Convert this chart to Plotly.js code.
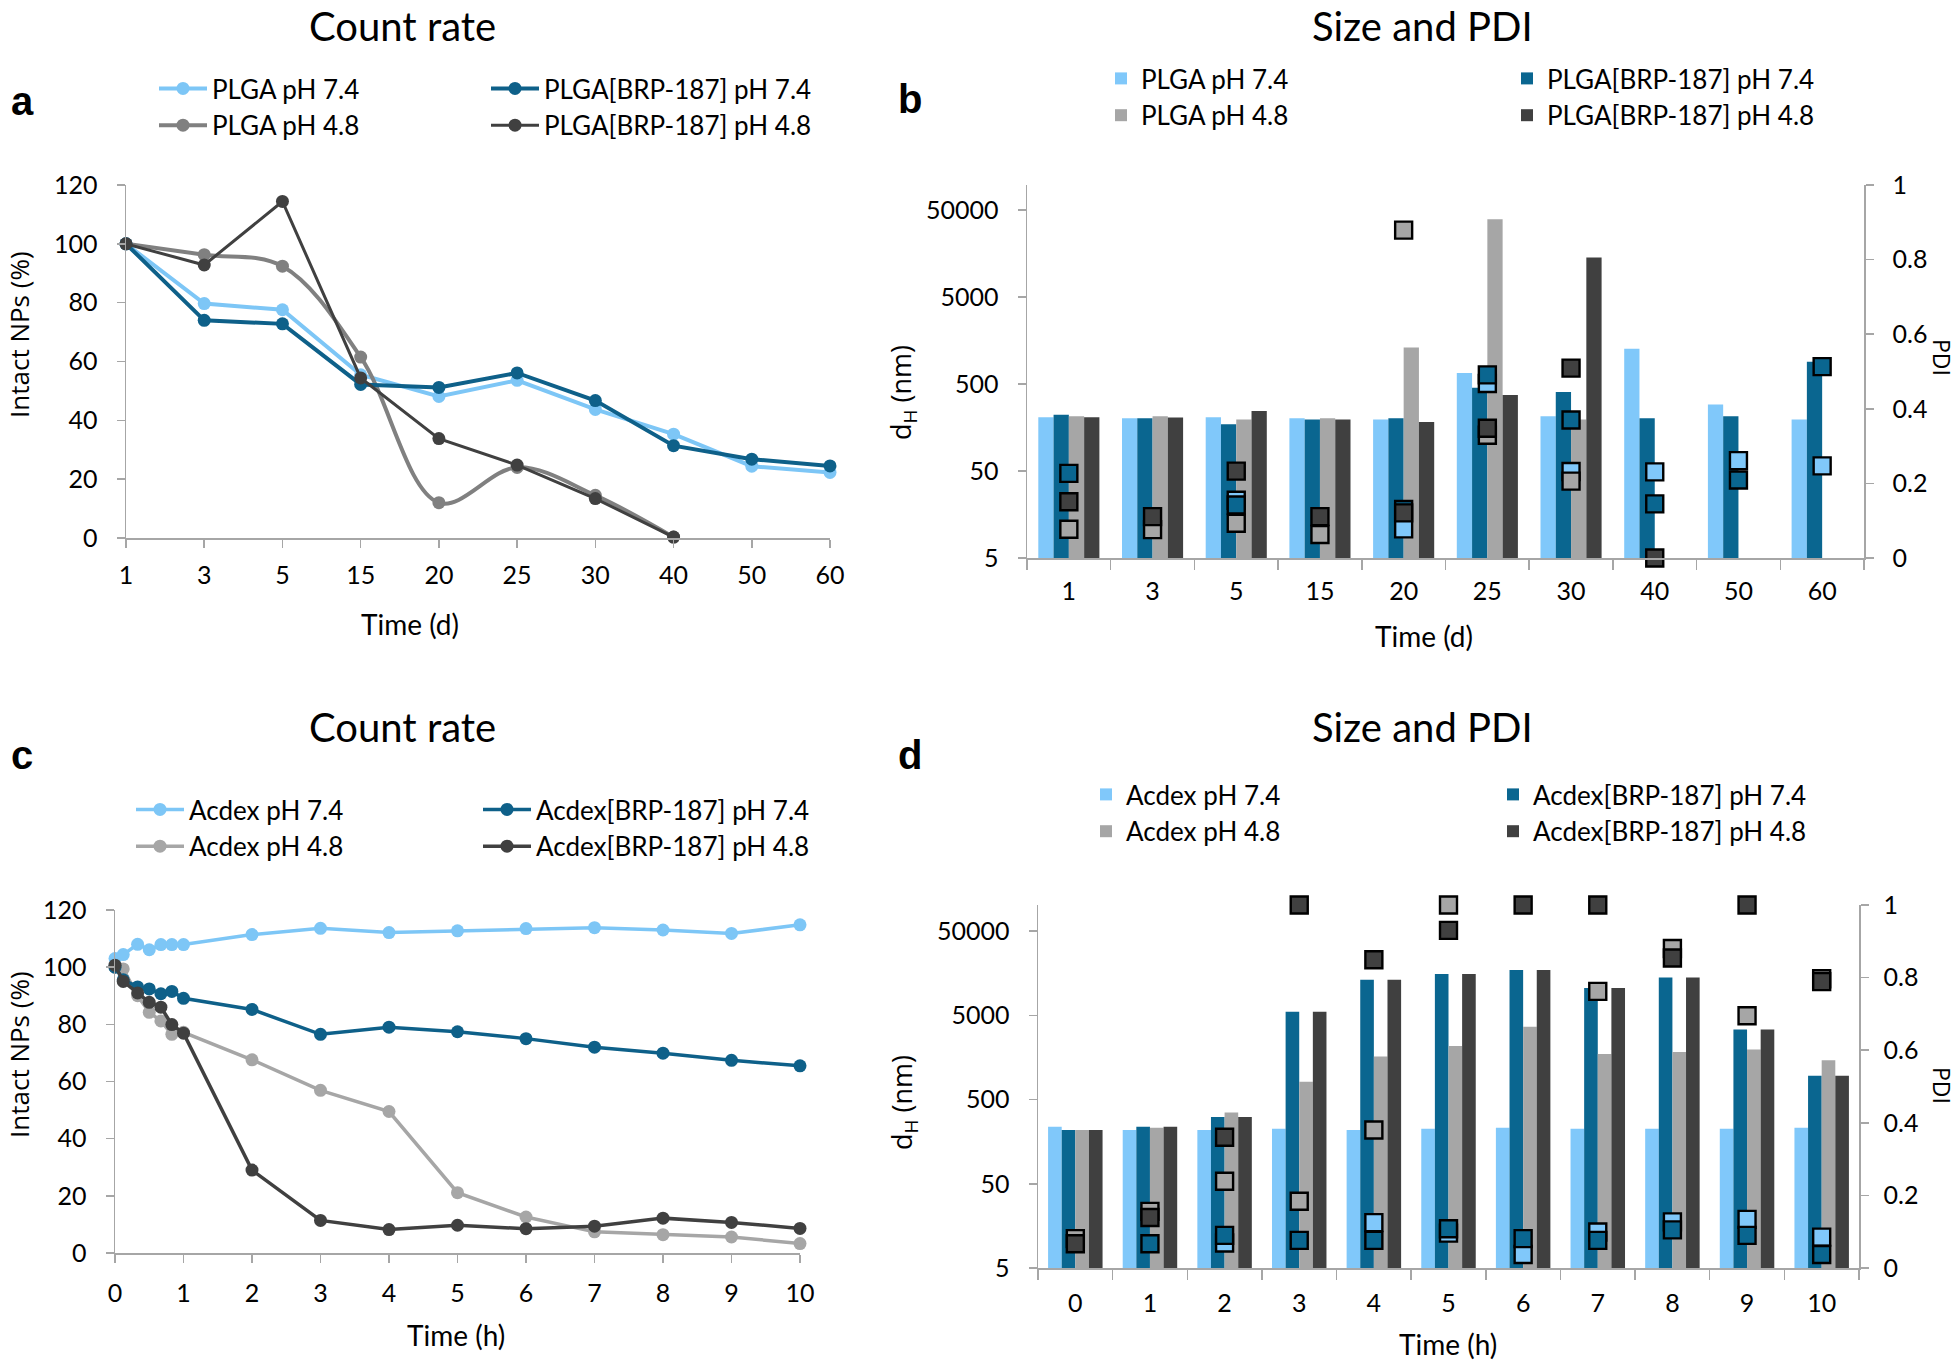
<!DOCTYPE html>
<html>
<head>
<meta charset="utf-8">
<script src="https://cdn.plot.ly/plotly-3.0.1.min.js"></script>
<style>
  html, body { margin: 0; padding: 0; background: #ffffff; }
  #chart { width: 1959px; height: 1364px; }
</style>
</head>
<body>
<div id="chart"></div>
<script>
// ---------------- Panel a: PLGA count rate ----------------
const daysA = ['1', '3', '5', '15', '20', '25', '30', '40', '50', '60'];
const plga74 = [100, 79.7, 77.6, 55.5, 48.1, 53.6, 43.7, 35.3, 24.4, 22.3];
const plgaBrp74 = [100, 74.0, 72.8, 52.2, 51.2, 56.1, 46.7, 31.4, 26.8, 24.5];
const plga48 = [100, 96.3, 92.4, 61.5, 12.0, 24.0, 14.5, 0.3, null, null];
const plgaBrp48 = [100, 92.8, 114.4, 54.4, 33.8, 24.8, 13.4, 0.3, null, null];

// ---------------- Panel b: PLGA size (bars) and PDI (squares) ----------------
const daysB = ['1', '3', '5', '15', '20', '25', '30', '40', '50', '60'];
const sizePlga74 = [208, 203, 208, 203, 196, 670, 214, 1278, 292, 196];
const sizePlgaBrp74 = [222, 203, 173, 196, 203, 454, 405, 203, 214, 906];
const sizePlga48 = [214, 214, 196, 203, 1321, 39270, 196, null, null, null];
const sizePlgaBrp48 = [208, 207, 245, 196, 183, 374, 14250, null, null, null];
const pdiPlga74 = [null, null, 0.155, null, 0.078, 0.468, 0.232, 0.231, 0.261, 0.247];
const pdiPlgaBrp74 = [0.227, null, 0.142, null, 0.13, 0.491, 0.370, 0.145, 0.209, 0.513];
const pdiPlga48 = [0.077, 0.076, 0.093, 0.063, 0.879, 0.329, 0.206, null, null, null];
const pdiPlgaBrp48 = [0.151, 0.111, 0.233, 0.111, 0.121, 0.348, 0.509, 0, null, null];

// ---------------- Panel c: Acdex count rate ----------------
const hoursC = [0, 0.12, 0.33, 0.5, 0.67, 0.83, 1, 2, 3, 4, 5, 6, 7, 8, 9, 10];
const acdex74 = [103, 104.4, 108, 106.1, 107.9, 107.9, 107.9, 111.4, 113.6, 112.1, 112.7, 113.5, 113.8, 113.0, 111.8, 114.8];
const acdexBrp74 = [100, 95.6, 93.1, 92.4, 90.7, 91.5, 89.1, 85.2, 76.5, 79.0, 77.4, 75.0, 72.0, 69.9, 67.4, 65.5];
const acdex48 = [100, 99.4, 90, 84.2, 81.2, 76.5, 77.2, 67.6, 56.9, 49.5, 21.1, 12.6, 7.4, 6.4, 5.6, 3.3];
const acdexBrp48 = [100.7, 95.0, 91.0, 87.7, 86.0, 79.9, 76.9, 29.0, 11.4, 8.2, 9.7, 8.5, 9.4, 12.2, 10.7, 8.6];

// ---------------- Panel d: Acdex size (bars) and PDI (squares) ----------------
const hoursD = ['0', '1', '2', '3', '4', '5', '6', '7', '8', '9', '10'];
const sizeAcdex74 = [237, 217, 217, 225, 217, 225, 231, 225, 225, 225, 231];
const sizeAcdexBrp74 = [217, 237, 310, 5510, 13240, 15470, 17260, 10540, 14090, 3390, 960];
const sizeAcdex48 = [217, 231, 352, 815, 1617, 2166, 3650, 1741, 1837, 1958, 1465];
const sizeAcdexBrp48 = [217, 237, 310, 5510, 13240, 15470, 17260, 10540, 14090, 3390, 960];
const pdiAcdex74 = [null, null, 0.069, null, 0.125, 0.096, 0.037, 0.099, 0.127, 0.134, 0.085];
const pdiAcdexBrp74 = [null, 0.067, 0.090, 0.076, 0.076, 0.108, 0.081, 0.076, 0.105, 0.090, 0.037];
const pdiAcdex48 = [0.081, 0.156, 0.239, 0.184, 0.380, 1.0, null, 0.762, 0.880, 0.695, 0.797];
const pdiAcdexBrp48 = [0.067, 0.139, 0.360, 1.0, 0.849, 0.930, 1.0, 1.0, 0.854, 1.0, 0.789];

const sizeTicks = [5, 50, 500, 5000, 50000];
const sizeTickText = ['5', '50', '500', '5000', '50000'];

// ---------------- styling ----------------
const W = 1959, H = 1364;
const FONT = 'Lato, "Open Sans", sans-serif';
const TITLEFONT = '"Open Sans", Lato, sans-serif';
const LETTERFONT = '"Liberation Sans", Arial, sans-serif';
const C_LB = '#80C8FA', C_TEAL = '#0A6690', C_GRAY = '#A6A6A6', C_DARK = '#404040', C_MID = '#808080';
const LINE_LB = '#7DC6F6', LINE_TEAL = '#0E6089';
const AXC = '#A6A6A6';

const px = v => v / W;
const py = v => 1 - v / H;

function lineTrace(x, y, name, color, xa, ya, leg, width, shape) {
  return {
    type: 'scatter', mode: 'lines+markers', x: x, y: y, name: name,
    xaxis: xa, yaxis: ya, legend: leg, connectgaps: false,
    line: { color: color, width: width, shape: shape || 'linear', smoothing: 1 },
    marker: { color: color, size: 13 },
    cliponaxis: false
  };
}
function barTrace(x, y, name, color, xa, ya, leg) {
  return {
    type: 'bar', x: x, y: y, name: name, xaxis: xa, yaxis: ya, legend: leg,
    marker: { color: color, line: { width: 0 } }
  };
}
function pdiTrace(x, y, name, color, xa, ya) {
  return {
    type: 'scatter', mode: 'markers', x: x, y: y, name: name + ' PDI',
    xaxis: xa, yaxis: ya, showlegend: false, cliponaxis: false,
    marker: { symbol: 'square', size: 17, color: color, line: { color: '#000000', width: 2.4 } }
  };
}

const traces = [
  // panel a
  lineTrace(daysA, plga74, 'PLGA pH 7.4', LINE_LB, 'x', 'y', 'legend', 4),
  lineTrace(daysA, plga48, 'PLGA pH 4.8', C_MID, 'x', 'y', 'legend', 4, 'spline'),
  lineTrace(daysA, plgaBrp74, 'PLGA[BRP-187] pH 7.4', LINE_TEAL, 'x', 'y', 'legend2', 4),
  lineTrace(daysA, plgaBrp48, 'PLGA[BRP-187] pH 4.8', C_DARK, 'x', 'y', 'legend2', 3),
  // panel b
  barTrace(daysB, sizePlga74, 'PLGA pH 7.4', C_LB, 'x2', 'y2', 'legend3'),
  barTrace(daysB, sizePlgaBrp74, 'PLGA[BRP-187] pH 7.4', C_TEAL, 'x2', 'y2', 'legend4'),
  barTrace(daysB, sizePlga48, 'PLGA pH 4.8', C_GRAY, 'x2', 'y2', 'legend3'),
  barTrace(daysB, sizePlgaBrp48, 'PLGA[BRP-187] pH 4.8', C_DARK, 'x2', 'y2', 'legend4'),
  pdiTrace(daysB, pdiPlga74, 'PLGA pH 7.4', C_LB, 'x2', 'y3'),
  pdiTrace(daysB, pdiPlgaBrp74, 'PLGA[BRP-187] pH 7.4', C_TEAL, 'x2', 'y3'),
  pdiTrace(daysB, pdiPlga48, 'PLGA pH 4.8', C_GRAY, 'x2', 'y3'),
  pdiTrace(daysB, pdiPlgaBrp48, 'PLGA[BRP-187] pH 4.8', C_DARK, 'x2', 'y3'),
  // panel c
  lineTrace(hoursC, acdex74, 'Acdex pH 7.4', LINE_LB, 'x3', 'y4', 'legend5', 3.5),
  lineTrace(hoursC, acdex48, 'Acdex pH 4.8', C_GRAY, 'x3', 'y4', 'legend5', 3.5),
  lineTrace(hoursC, acdexBrp74, 'Acdex[BRP-187] pH 7.4', LINE_TEAL, 'x3', 'y4', 'legend6', 3.5),
  lineTrace(hoursC, acdexBrp48, 'Acdex[BRP-187] pH 4.8', C_DARK, 'x3', 'y4', 'legend6', 3.5),
  // panel d
  barTrace(hoursD, sizeAcdex74, 'Acdex pH 7.4', C_LB, 'x4', 'y5', 'legend7'),
  barTrace(hoursD, sizeAcdexBrp74, 'Acdex[BRP-187] pH 7.4', C_TEAL, 'x4', 'y5', 'legend8'),
  barTrace(hoursD, sizeAcdex48, 'Acdex pH 4.8', C_GRAY, 'x4', 'y5', 'legend7'),
  barTrace(hoursD, sizeAcdexBrp48, 'Acdex[BRP-187] pH 4.8', C_DARK, 'x4', 'y5', 'legend8'),
  pdiTrace(hoursD, pdiAcdex74, 'Acdex pH 7.4', C_LB, 'x4', 'y6'),
  pdiTrace(hoursD, pdiAcdexBrp74, 'Acdex[BRP-187] pH 7.4', C_TEAL, 'x4', 'y6'),
  pdiTrace(hoursD, pdiAcdex48, 'Acdex pH 4.8', C_GRAY, 'x4', 'y6'),
  pdiTrace(hoursD, pdiAcdexBrp48, 'Acdex[BRP-187] pH 4.8', C_DARK, 'x4', 'y6')
];

function axis(extra) {
  return Object.assign({
    showline: true, linecolor: AXC, linewidth: 1.5,
    ticks: 'outside', tickcolor: AXC, tickwidth: 1.5, ticklen: 8,
    showgrid: false, zeroline: false, fixedrange: true,
    tickfont: { family: FONT, size: 25, color: '#000' }
  }, extra);
}
function legend(xp, yp, itemwidth) {
  return {
    x: px(xp), y: py(yp), xanchor: 'left', yanchor: 'top', orientation: 'v',
    bgcolor: 'rgba(0,0,0,0)', borderwidth: 0, itemwidth: itemwidth, tracegroupgap: 0,
    font: { family: FONT, size: 26, color: '#000' }, itemclick: false, itemdoubleclick: false
  };
}
function ann(text, xp, yp, size, extra) {
  return Object.assign({
    text: text, x: px(xp), y: py(yp), xref: 'paper', yref: 'paper',
    xanchor: 'center', yanchor: 'middle', showarrow: false,
    font: { family: FONT, size: size, color: '#000' }
  }, extra || {});
}
function letter(t, xp, yp) {
  return ann(t, xp, yp, 40, { font: { family: LETTERFONT, size: 40, color: '#000', weight: 'bold' } });
}
function yLabel(t, xp, yp, size, angle) {
  return ann(t, xp, yp, size, { textangle: angle, font: { family: TITLEFONT, size: size, color: '#000' } });
}

const layout = {
  width: W, height: H,
  margin: { l: 0, r: 0, t: 0, b: 0 },
  paper_bgcolor: '#ffffff', plot_bgcolor: 'rgba(0,0,0,0)',
  font: { family: FONT, size: 25, color: '#000' },
  barmode: 'group', bargap: 0.27, bargroupgap: 0,
  showlegend: true,
  // panel a
  xaxis: axis({ domain: [px(126), px(830)], anchor: 'y', type: 'category', range: [0, 9],
    ticklabelstandoff: 6 }),
  yaxis: axis({ domain: [py(538), py(185)], anchor: 'x', range: [0, 120], dtick: 20, tickmode: 'linear',
    ticklabelstandoff: 14 }),
  // panel b
  xaxis2: axis({ domain: [px(1027), px(1864)], anchor: 'y2', type: 'category', range: [-0.5, 9.5],
    tickson: 'boundaries', ticklen: 10, ticklabelstandoff: 10 }),
  yaxis2: axis({ domain: [py(558), py(185)], anchor: 'x2', type: 'log',
    range: [Math.log10(5), Math.log10(5) + 4.29], tickmode: 'array', tickvals: sizeTicks, ticktext: sizeTickText,
    ticklabelstandoff: 14 }),
  yaxis3: axis({ overlaying: 'y2', side: 'right', anchor: 'x2', range: [0, 1], dtick: 0.2, tickmode: 'linear',
    ticklabelstandoff: 14 }),
  // panel c
  xaxis3: axis({ domain: [px(115), px(800)], anchor: 'y4', range: [0, 10], dtick: 1, tickmode: 'linear',
    ticklabelstandoff: 9 }),
  yaxis4: axis({ domain: [py(1253), py(910)], anchor: 'x3', range: [0, 120], dtick: 20, tickmode: 'linear',
    ticklabelstandoff: 14 }),
  // panel d
  xaxis4: axis({ domain: [px(1038), px(1859)], anchor: 'y5', type: 'category', range: [-0.5, 10.5],
    tickson: 'boundaries', ticklen: 10, ticklabelstandoff: 12 }),
  yaxis5: axis({ domain: [py(1268), py(905)], anchor: 'x4', type: 'log',
    range: [Math.log10(5), Math.log10(5) + 4.31], tickmode: 'array', tickvals: sizeTicks, ticktext: sizeTickText,
    ticklabelstandoff: 14 }),
  yaxis6: axis({ overlaying: 'y5', side: 'right', anchor: 'x4', range: [0, 1], dtick: 0.2, tickmode: 'linear',
    ticklabelstandoff: 10 }),
  legend: legend(154, 65, 48),
  legend2: legend(486, 65, 48),
  legend3: legend(1101, 55, 30),
  legend4: legend(1507, 55, 30),
  legend5: legend(131, 786, 48),
  legend6: legend(478, 786, 48),
  legend7: legend(1086, 771, 30),
  legend8: legend(1493, 771, 30),
  annotations: [
    ann('Count rate', 402, 0, 40, { yanchor: 'top' }),
    ann('Size and PDI', 1422, 0, 40, { yanchor: 'top' }),
    ann('Count rate', 402, 727, 40),
    ann('Size and PDI', 1422, 727, 40),
    letter('a', 22, 101),
    letter('b', 910, 99),
    letter('c', 22, 755),
    letter('d', 910, 755),
    // axis titles
    ann('Time (d)', 410, 624, 28),
    ann('Time (d)', 1424, 636, 28),
    ann('Time (h)', 456, 1335, 28),
    ann('Time (h)', 1448, 1344, 28),
    yLabel('Intact NPs (%)', 19, 335, 26, -90),
    yLabel('Intact NPs (%)', 19, 1055, 26, -90),
    yLabel('d<sub>H</sub> (nm)', 903, 393, 27, -90),
    yLabel('d<sub>H</sub> (nm)', 903, 1103, 27, -90),
    yLabel('PDI', 1942, 357, 23, 90),
    yLabel('PDI', 1942, 1085, 23, 90)
  ]
};

Plotly.newPlot('chart', traces, layout, { displayModeBar: false, staticPlot: true });
</script>
</body>
</html>
